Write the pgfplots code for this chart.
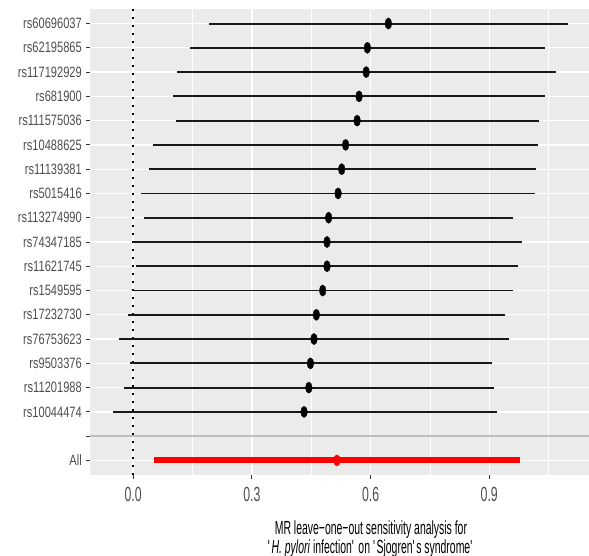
\documentclass[border=0pt]{standalone}
\usepackage{pgfplots}
\pgfplotsset{compat=1.18}
\usepackage{pgfplotstable}
\usepackage{fontspec}
\setmainfont{Liberation Sans}
\newfontfamily\ylabfont{Liberation Sans}[FakeStretch=0.74]
\newfontfamily\xtickfont{Liberation Sans}[FakeStretch=0.6]
\newfontfamily\titlefont{Liberation Sans}[FakeStretch=0.55]
\definecolor{panelbg}{HTML}{EBEBEB}
\definecolor{grey30}{HTML}{4D4D4D}
\definecolor{grey20}{HTML}{333333}
\definecolor{sepgrey}{HTML}{BEBEBE}

\pgfplotstableread{
pos b lo hi
19 0.645 0.191 1.100
18 0.592 0.144 1.042
17 0.589 0.110 1.069
16 0.571 0.102 1.041
15 0.566 0.109 1.025
14 0.537 0.050 1.024
13 0.527 0.040 1.017
12 0.518 0.021 1.016
11 0.494 0.028 0.960
10 0.490 -0.001 0.982
9 0.490 0.006 0.972
8 0.479 -0.002 0.961
7 0.463 -0.013 0.939
6 0.457 -0.035 0.950
5 0.448 -0.009 0.906
4 0.444 -0.023 0.912
3 0.432 -0.051 0.919
}\snpdata
\pgfplotstableread{
pos b lo hi
1 0.515 0.053 0.977
}\alldata

\begin{document}
\begin{tikzpicture}
\begin{axis}[
  scale only axis,
  width=499bp, height=466bp,
  xmin=-0.109, xmax=1.152,
  ymin=0.4, ymax=19.6,
  axis background/.style={fill=panelbg},
  axis line style={draw=none},
  tick pos=left,
  tick align=outside,
  major tick length=4bp,
  minor tick length=0pt,
  tick style={draw=grey20, line width=0.9bp},
  xtick={0,0.3,0.6,0.9},
  xticklabels={0.0,0.3,0.6,0.9},
  minor xtick={-0.15,0.15,0.45,0.75,1.05},
  ytick={1,...,19},
  yticklabels={All,{},rs10044474,rs11201988,rs9503376,rs76753623,rs17232730,rs1549595,rs11621745,rs74347185,rs113274990,rs5015416,rs11139381,rs10488625,rs111575036,rs681900,rs117192929,rs62195865,rs60696037},
  xmajorgrids, ymajorgrids, xminorgrids,
  major grid style={white, line width=1.3bp},
  minor grid style={white, line width=0.7bp},
  yticklabel style={font=\fontsize{15bp}{16bp}\ylabfont, text=grey30, inner xsep=4bp},
  xticklabel style={font=\fontsize{20.5bp}{21bp}\xtickfont, text=grey30, inner ysep=8bp},
  xlabel={MR leave−one−out sensitivity analysis for\\\textquotesingle\textit{H. pylori} infection\textquotesingle\ on \textquotesingle Sjogren\textquotesingle s syndrome\textquotesingle},
  xlabel style={at={(axis description cs:0.563,0)}, anchor=north, yshift=-46bp, align=center, font=\fontsize{19bp}{18.5bp}\titlefont, inner sep=0pt, text=black},
]
\addplot[black, line width=1.4bp, dash pattern=on 1.6bp off 6.4bp] coordinates {(0,0.4) (0,19.6)};
\addplot[sepgrey, line width=1.4bp] coordinates {(-0.2,2) (1.3,2)};
\addplot[only marks, black, mark=*, mark size=5.6bp, mark options={xscale=0.6, fill=black},
  error bars/.cd, x dir=both, x explicit, error mark=none,
  error bar style={line width=1.9bp, black!90}]
  table[x=b, y=pos, x error plus expr=\thisrow{hi}-\thisrow{b}, x error minus expr=\thisrow{b}-\thisrow{lo}] {\snpdata};
\addplot[only marks, red, mark=*, mark size=5.6bp, mark options={xscale=0.6, fill=red},
  error bars/.cd, x dir=both, x explicit, error mark=none,
  error bar style={line width=6bp, red}]
  table[x=b, y=pos, x error plus expr=\thisrow{hi}-\thisrow{b}, x error minus expr=\thisrow{b}-\thisrow{lo}] {\alldata};
\end{axis}
\pgfresetboundingbox
\path[use as bounding box] (-90bp,-81bp) rectangle (499bp,475bp);
\end{tikzpicture}
\end{document}
